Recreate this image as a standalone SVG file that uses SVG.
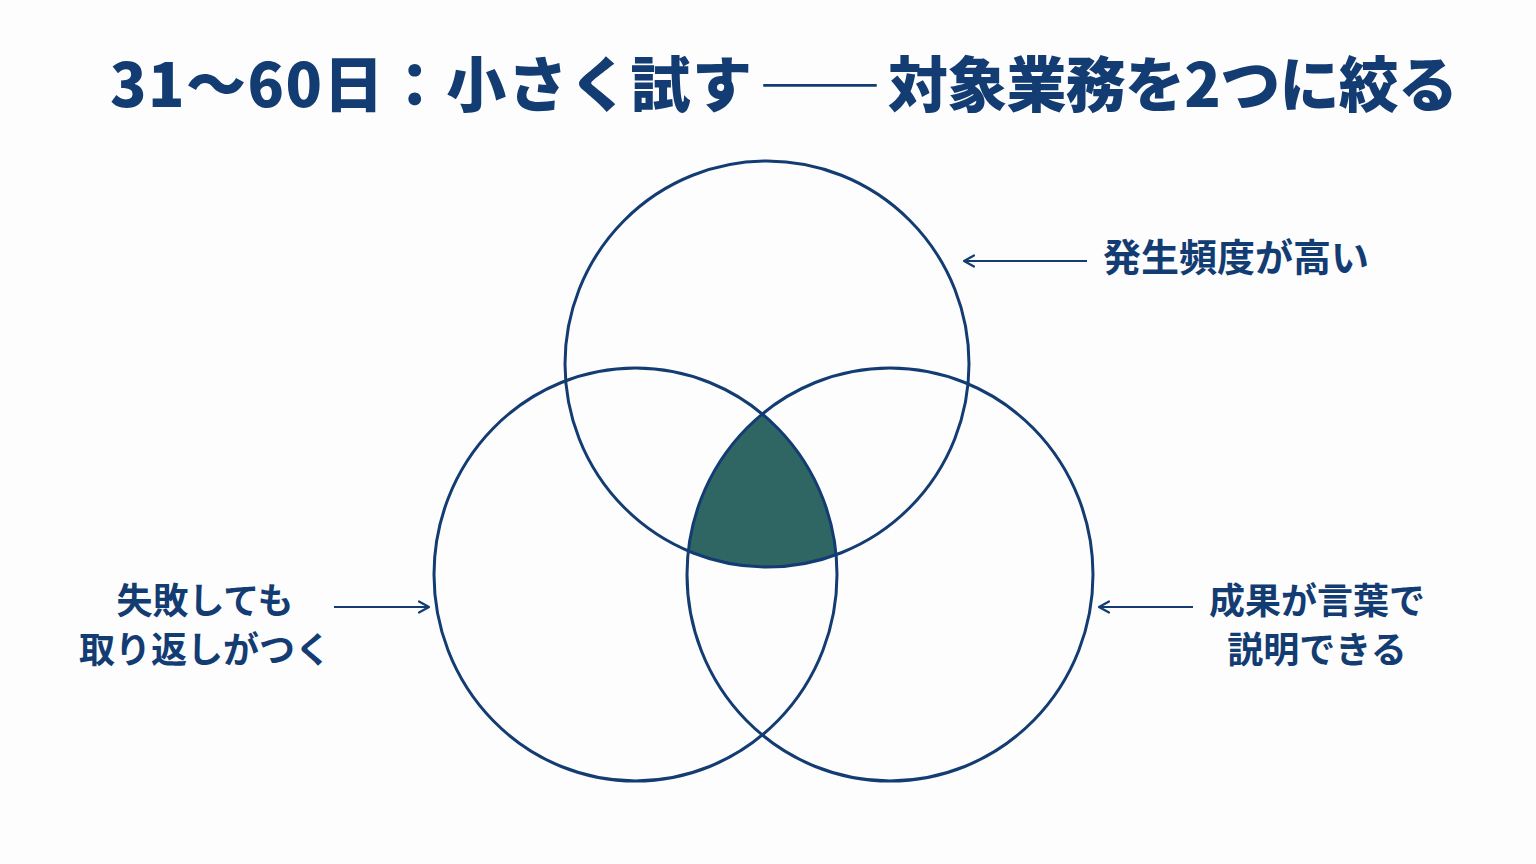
<svg xmlns="http://www.w3.org/2000/svg" width="1536" height="864" viewBox="0 0 1536 864">
  <style>
    .t { font-family: "Noto Sans CJK JP", "Noto Sans", sans-serif; font-weight: 700; fill: #133c72; }
    .title { font-size: 60px; font-weight: 900; }
    .dash { font-weight: 300; }
    .lbl { font-size: 36px; text-anchor: middle; }
    .ring { fill: none; stroke: #133c72; stroke-width: 3; }
    .conn { stroke: #133c72; stroke-width: 2; fill: none; }
  </style>
  <defs>
    <marker id="arr" viewBox="0 0 14 14" refX="12" refY="7" markerWidth="14" markerHeight="14" markerUnits="userSpaceOnUse" orient="auto">
      <path d="M2,1.5 L12,7 L2,12.5" fill="none" stroke="#133c72" stroke-width="2.2" stroke-linecap="round" stroke-linejoin="round"/>
    </marker>
    <clipPath id="cL"><ellipse cx="635.5" cy="574.5" rx="201.5" ry="206.5"/></clipPath>
    <clipPath id="cR"><ellipse cx="890" cy="574.5" rx="203" ry="206.5"/></clipPath>
  </defs>
  <rect width="1536" height="864" fill="#fdfdfe"/>

  <g id="title">
    <text class="t title" y="107"><tspan x="110" y="107" textLength="642" lengthAdjust="spacing">31〜60日：小さく試す</tspan><tspan class="dash" x="760" y="102" textLength="120" lengthAdjust="spacingAndGlyphs">——</tspan><tspan x="888" y="107" textLength="570" lengthAdjust="spacing">対象業務を2つに絞る</tspan></text>
  </g>

  <g id="overlap">
    <g clip-path="url(#cL)">
      <ellipse cx="767" cy="364" rx="202" ry="203" fill="#2f6663" clip-path="url(#cR)"/>
    </g>
  </g>

  <g id="circle-top"><ellipse class="ring" cx="767" cy="364" rx="202" ry="203"/></g>
  <g id="circle-left"><ellipse class="ring" cx="635.5" cy="574.5" rx="201.5" ry="206.5"/></g>
  <g id="circle-right"><ellipse class="ring" cx="890" cy="574.5" rx="203" ry="206.5"/></g>

  <g id="connectors">
    <line class="conn" x1="1087" y1="261" x2="964" y2="261" marker-end="url(#arr)"/>
    <line class="conn" x1="334" y1="607" x2="429" y2="607" marker-end="url(#arr)"/>
    <line class="conn" x1="1193" y1="607" x2="1099" y2="607" marker-end="url(#arr)"/>
  </g>

  <g id="label-top">
    <text class="t lbl" x="1236" y="271" style="font-size:38px">発生頻度が高い</text>
  </g>
  <g id="label-left">
    <text class="t lbl" x="205" y="614">失敗しても</text>
    <text class="t lbl" x="205" y="663">取り返しがつく</text>
  </g>
  <g id="label-right">
    <text class="t lbl" x="1317" y="614">成果が言葉で</text>
    <text class="t lbl" x="1317" y="663">説明できる</text>
  </g>
</svg>
